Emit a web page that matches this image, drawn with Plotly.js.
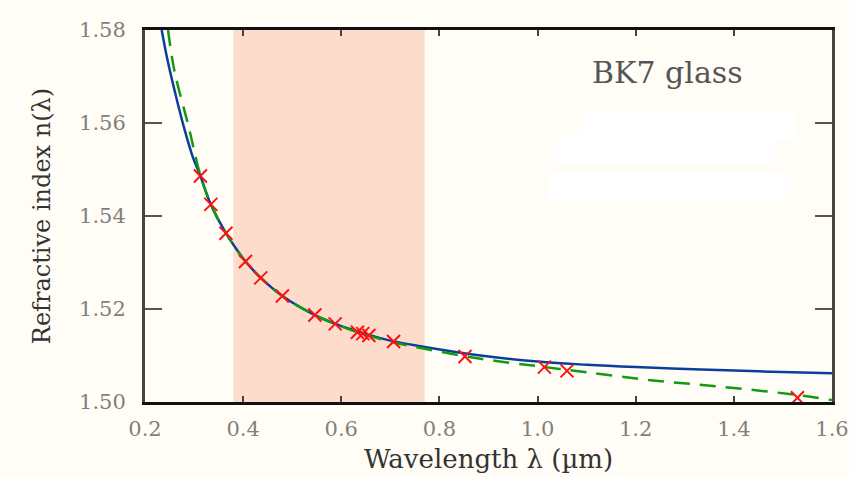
<!DOCTYPE html>
<html>
<head>
<meta charset="utf-8">
<script src="https://cdn.plot.ly/plotly-3.0.1.min.js"></script>
<style>html,body{margin:0;padding:0;background:#fffdf5;}#chart{width:850px;height:477px;}</style>
</head>
<body>
<div id="chart"></div>
<script>
// Measured BK7 refractive index (red crosses)
const measWavelength = [0.3129, 0.3342, 0.3650, 0.4047, 0.4358, 0.4800, 0.5461, 0.5876, 0.6328, 0.6438, 0.6563, 0.7065, 0.8521, 1.0140, 1.0600, 1.5296];
const measIndex      = [1.5486, 1.5425, 1.5363, 1.5302, 1.5267, 1.5228, 1.5187, 1.5168, 1.5150, 1.5147, 1.5143, 1.5130, 1.5098, 1.5075, 1.5067, 1.5009];

// Blue solid fit curve
const fitWavelength = [0.234, 0.245, 0.261, 0.278, 0.298, 0.313, 0.334, 0.365, 0.405, 0.436, 0.480, 0.546, 0.588, 0.633, 0.700, 0.767, 0.884, 1.000, 1.100, 1.200, 1.333, 1.450, 1.600];
const fitIndex      = [1.5800, 1.5740, 1.5667, 1.5596, 1.5525, 1.5486, 1.5425, 1.5363, 1.5302, 1.5267, 1.5228, 1.5187, 1.5168, 1.5152, 1.5132, 1.5119, 1.5100, 1.5087, 1.5080, 1.5075, 1.5070, 1.5066, 1.5062];

// Green dashed curve
const sellWavelength = [0.247, 0.260, 0.288, 0.313, 0.334, 0.365, 0.405, 0.436, 0.480, 0.546, 0.588, 0.633, 0.700, 0.767, 0.884, 1.000, 1.100, 1.230, 1.373, 1.530, 1.600];
const sellIndex      = [1.5800, 1.5712, 1.5596, 1.5487, 1.5426, 1.5363, 1.5302, 1.5267, 1.5228, 1.5187, 1.5168, 1.5150, 1.5130, 1.5115, 1.5093, 1.5077, 1.5064, 1.5047, 1.5033, 1.5015, 1.5004];

// Visible band
const visibleBand = [0.38, 0.77];

const xTicks = [0.2, 0.4, 0.6, 0.8, 1.0, 1.2, 1.4, 1.6];
const yTicks = [1.50, 1.52, 1.54, 1.56, 1.58];

const serif = 'DejaVu Serif';

const traces = [
  {x: fitWavelength, y: fitIndex, mode: 'lines', line: {color: '#0a3f9c', width: 2.5, shape: 'spline'}, hoverinfo: 'skip'},
  {x: sellWavelength, y: sellIndex, mode: 'lines', line: {color: '#129a12', width: 2.5, dash: '16px,10px', shape: 'spline'}, hoverinfo: 'skip'},
  {x: measWavelength, y: measIndex, mode: 'markers', marker: {symbol: 'x-thin-open', size: 13, color: '#ff1010', line: {color: '#ff1010', width: 2}}}
];

const layout = {
  width: 850, height: 477,
  paper_bgcolor: '#fffdf5',
  plot_bgcolor: '#fffdf5',
  margin: {l: 145, r: 18, t: 30, b: 75},
  showlegend: false,
  font: {family: serif, color: '#777'},
  xaxis: {
    range: [0.2, 1.6], tickvals: xTicks, ticktext: xTicks.map(v => v.toFixed(1)),
    ticks: 'inside', ticklen: 6, tickwidth: 2, tickcolor: '#444',
    showline: true, linecolor: '#111', linewidth: 3, mirror: 'ticks',
    showgrid: false, zeroline: false,
    ticklabelstandoff: 6,
    tickfont: {family: serif, size: 21, color: '#808080'},
    title: {text: 'Wavelength λ (µm)', font: {family: serif, size: 26, color: '#333'}, standoff: 10}
  },
  yaxis: {
    range: [1.50, 1.58], tickvals: yTicks, ticktext: yTicks.map(v => v.toFixed(2)),
    ticks: 'inside', ticklen: 17, tickwidth: 2, tickcolor: '#555',
    showline: true, linecolor: '#444', linewidth: 3, mirror: 'ticks',
    showgrid: false, zeroline: false,
    ticklabelstandoff: 12,
    tickfont: {family: serif, size: 21, color: '#808080'},
    title: {text: 'Refractive index n(λ)', font: {family: serif, size: 24, color: '#333'}, standoff: 22}
  },
  shapes: [
    {type: 'rect', xref: 'x', yref: 'paper', x0: visibleBand[0], x1: visibleBand[1], y0: 0, y1: 1,
     fillcolor: '#fddccb', line: {width: 0}, layer: 'below'},
    {type: 'rect', xref: 'x', yref: 'y', x0: 1.094, x1: 1.527, y0: 1.5563, y1: 1.5622, fillcolor: '#ffffff', line: {width: 0}, layer: 'above'},
    {type: 'rect', xref: 'x', yref: 'y', x0: 1.033, x1: 1.482, y0: 1.5510, y1: 1.5574, fillcolor: '#ffffff', line: {width: 0}, layer: 'above'},
    {type: 'rect', xref: 'x', yref: 'y', x0: 1.022, x1: 1.514, y0: 1.5434, y1: 1.5497, fillcolor: '#ffffff', line: {width: 0}, layer: 'above'}
  ],
  annotations: [
    {text: 'BK7 glass', xref: 'x', yref: 'y', x: 1.265, y: 1.5709, showarrow: false,
     font: {family: serif, size: 30, color: '#555'}}
  ]
};

Plotly.newPlot('chart', traces, layout, {displayModeBar: false, staticPlot: true});
</script>
</body>
</html>
